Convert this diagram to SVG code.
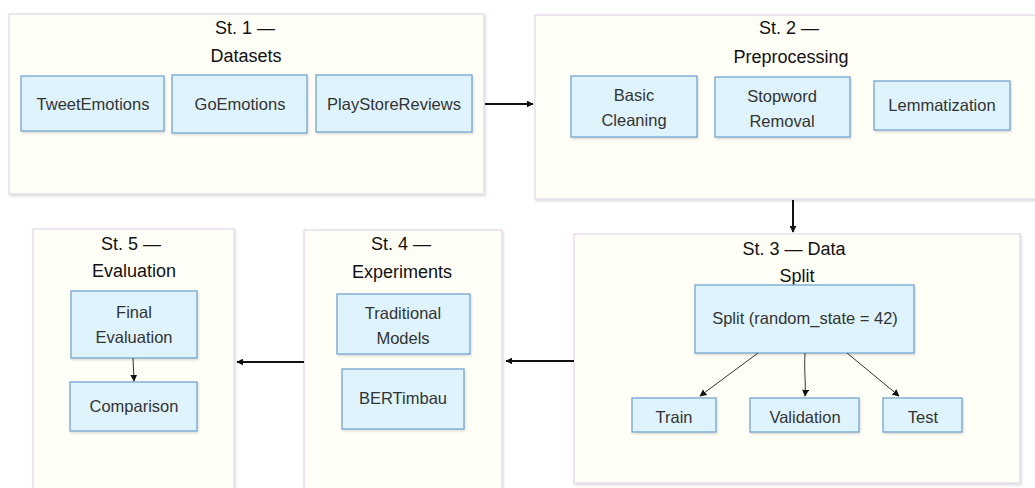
<svg xmlns="http://www.w3.org/2000/svg" width="1035" height="488" viewBox="0 0 1035 488">
<defs>
<style>
.stage{fill:#fffef7;stroke:#e3d6ea;stroke-width:1.2}
.node{fill:#dff3fd;stroke:#6b9fcc;stroke-width:1.2}
.title{font-family:"Liberation Sans",Arial,sans-serif;font-size:18px;fill:#111;text-anchor:middle}
.lbl{font-family:"Liberation Sans",Arial,sans-serif;font-size:16.5px;fill:#333;text-anchor:middle}
.big{fill:none;stroke:#111;stroke-width:2}
.thin{fill:none;stroke:#333;stroke-width:1}
</style>
<filter id="sh" x="-5%" y="-5%" width="110%" height="115%">
<feDropShadow dx="1" dy="1.5" stdDeviation="1" flood-color="#000" flood-opacity="0.15"/>
</filter>
<marker id="ab" viewBox="0 0 10 10" refX="9" refY="5" markerWidth="7" markerHeight="7" markerUnits="userSpaceOnUse" orient="auto">
<path d="M0,0 L10,5 L0,10 z" fill="#111"/>
</marker>
<marker id="as" viewBox="0 0 10 10" refX="9" refY="5" markerWidth="7" markerHeight="7" markerUnits="userSpaceOnUse" orient="auto">
<path d="M0,0 L10,5 L0,10 z" fill="#111"/>
</marker>
</defs>

<g id="stage1">
<rect class="stage" x="9" y="14" width="475" height="180" filter="url(#sh)"/>
<text class="title" x="245" y="34">St. 1 —</text>
<text class="title" x="246" y="62">Datasets</text>
</g>
<g id="stage2">
<rect class="stage" x="535" y="15" width="505" height="184" filter="url(#sh)"/>
<text class="title" x="789" y="34">St. 2 —</text>
<text class="title" x="791" y="63">Preprocessing</text>
</g>
<g id="stage3">
<rect class="stage" x="574" y="234" width="446" height="249" filter="url(#sh)"/>
<text class="title" x="794" y="255">St. 3 — Data</text>
<text class="title" x="797" y="282">Split</text>
</g>
<g id="stage4">
<rect class="stage" x="304" y="230" width="198" height="270" filter="url(#sh)"/>
<text class="title" x="401" y="250">St. 4 —</text>
<text class="title" x="402" y="278">Experiments</text>
</g>
<g id="stage5">
<rect class="stage" x="33" y="229" width="201" height="271" filter="url(#sh)"/>
<text class="title" x="131" y="250">St. 5 —</text>
<text class="title" x="134" y="277">Evaluation</text>
</g>

<g id="n-tweet"><rect class="node" x="21" y="76" width="143" height="55" filter="url(#sh)"/><text class="lbl" x="93" y="110">TweetEmotions</text></g>
<g id="n-go"><rect class="node" x="172" y="75" width="135" height="58" filter="url(#sh)"/><text class="lbl" x="240" y="110">GoEmotions</text></g>
<g id="n-play"><rect class="node" x="316" y="75" width="156" height="57" filter="url(#sh)"/><text class="lbl" x="394" y="110">PlayStoreReviews</text></g>

<g id="n-basic"><rect class="node" x="571" y="76" width="126" height="61" filter="url(#sh)"/><text class="lbl" x="634" y="101">Basic</text><text class="lbl" x="634" y="126">Cleaning</text></g>
<g id="n-stop"><rect class="node" x="715" y="77" width="135" height="60" filter="url(#sh)"/><text class="lbl" x="782" y="102">Stopword</text><text class="lbl" x="782" y="127">Removal</text></g>
<g id="n-lemma"><rect class="node" x="874" y="81" width="136" height="49" filter="url(#sh)"/><text class="lbl" x="942" y="111">Lemmatization</text></g>

<g id="n-split"><rect class="node" x="695" y="285" width="219" height="68" filter="url(#sh)"/><text class="lbl" x="805" y="324">Split (random_state = 42)</text></g>
<g id="n-train"><rect class="node" x="632" y="398" width="84" height="34" filter="url(#sh)"/><text class="lbl" x="674" y="423">Train</text></g>
<g id="n-val"><rect class="node" x="750" y="398" width="109" height="34" filter="url(#sh)"/><text class="lbl" x="805" y="423">Validation</text></g>
<g id="n-test"><rect class="node" x="883" y="398" width="79" height="34" filter="url(#sh)"/><text class="lbl" x="923" y="423">Test</text></g>

<g id="n-trad"><rect class="node" x="337" y="294" width="133" height="60" filter="url(#sh)"/><text class="lbl" x="403" y="319">Traditional</text><text class="lbl" x="403" y="344">Models</text></g>
<g id="n-bert"><rect class="node" x="342" y="369" width="122" height="60" filter="url(#sh)"/><text class="lbl" x="403" y="404">BERTimbau</text></g>

<g id="n-final"><rect class="node" x="71" y="291" width="126" height="67" filter="url(#sh)"/><text class="lbl" x="134" y="318">Final</text><text class="lbl" x="134" y="343">Evaluation</text></g>
<g id="n-comp"><rect class="node" x="70" y="382" width="127" height="49" filter="url(#sh)"/><text class="lbl" x="134" y="412">Comparison</text></g>

<g id="connectors">
<path class="big" d="M485,104 L533,104" marker-end="url(#ab)"/>
<path class="big" d="M793,200 L793,232" marker-end="url(#ab)"/>
<path class="big" d="M574,361 L506,361" marker-end="url(#ab)"/>
<path class="big" d="M304,362 L237,362" marker-end="url(#ab)"/>
<path class="thin" d="M758,353 L700,396" marker-end="url(#as)"/>
<path class="thin" d="M805,353 C804,370 806,385 805,396" marker-end="url(#as)"/>
<path class="thin" d="M847,353 L899,396" marker-end="url(#as)"/>
<path class="thin" d="M133,358 L134,381" marker-end="url(#as)"/>
</g>
</svg>
